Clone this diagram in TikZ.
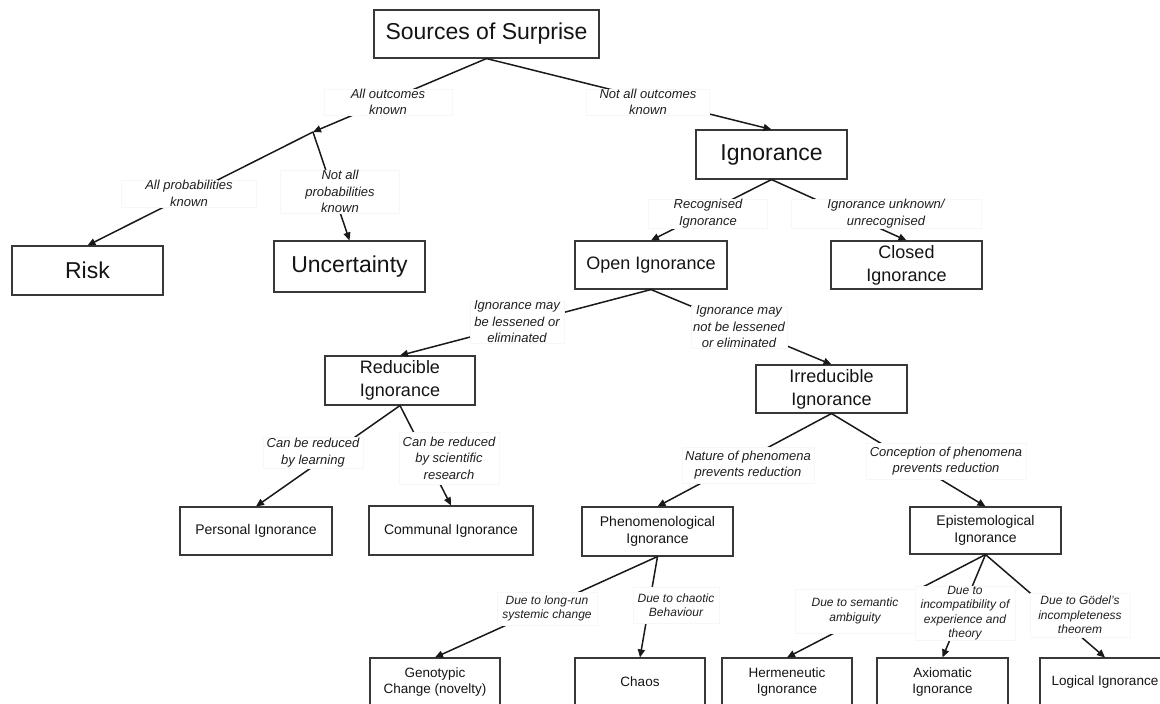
\documentclass[tikz,border=0pt]{standalone}
\usepackage{fontspec}
\setmainfont{Liberation Sans}
\usetikzlibrary{arrows.meta}

\tikzset{
    box/.style={draw=black!78, line width=1.1pt, align=center, inner sep=0pt, text=black!92},
    bigbox/.style={box, minimum width=151pt, minimum height=49pt, font=\fontsize{23}{27}\selectfont},
    midbox/.style={box, minimum width=151pt, minimum height=48pt, font=\fontsize{18}{23}\selectfont},
    smallbox/.style={box, minimum width=151pt, minimum height=48pt, font=\fontsize{14}{17}\selectfont},
    leafbox/.style={box, minimum width=130pt, minimum height=48pt, font=\fontsize{13.5}{16}\selectfont},
    conn/.style={line width=1.5pt, draw=black!90, -{Triangle[length=8pt,width=7pt]}},
    cond/.style={fill=white, draw=black!3, align=center, inner sep=0pt, text=black!88, font=\fontsize{13}{16.5}\selectfont\itshape},
    condsmall/.style={cond, font=\fontsize{12}{14.5}\selectfont\itshape}
}

\begin{document}
\begin{tikzpicture}[x=1pt,y=-1pt]
        \useasboundingbox (0,0) rectangle (1160,704);

        \node[bigbox, minimum width=225pt, minimum height=48pt] (sources) at (486.5,34) {Sources of Surprise};
        \node[bigbox] (ignorance) at (771.5,154.5) {Ignorance};
        \node[bigbox] (risk) at (87.5,270.5) {Risk};
        \node[bigbox, minimum height=51pt] (uncertainty) at (349.5,266.5) {Uncertainty};
        \node[midbox, minimum width=152pt] (open) at (651,265) {Open Ignorance};
        \node[midbox] (closed) at (906.5,265) {Closed\\Ignorance};
        \node[midbox, minimum width=150pt, minimum height=49pt] (reducible) at (400,380.5) {Reducible\\Ignorance};
        \node[midbox] (irreducible) at (831.5,389) {Irreducible\\Ignorance};
        \node[smallbox, minimum width=152pt] (personal) at (256,531) {Personal Ignorance};
        \node[smallbox, minimum width=164pt, minimum height=49pt] (communal) at (451,530.5) {Communal Ignorance};
        \node[smallbox, minimum height=49pt] (phenomenological) at (657.5,531.5) {Phenomenological\\Ignorance};
        \node[smallbox, minimum height=47pt] (epistemological) at (985.5,530.5) {Epistemological\\Ignorance};
        \node[leafbox] (genotypic) at (435,682) {Genotypic\\Change (novelty)};
        \node[leafbox] (chaos) at (640,682) {Chaos};
        \node[leafbox] (hermeneutic) at (787,682) {Hermeneutic\\Ignorance};
        \node[leafbox, minimum width=131pt] (axiomatic) at (942.5,682) {Axiomatic\\Ignorance};
        \node[leafbox] (logical) at (1105,682) {Logical Ignorance};

        \coordinate (known) at (313,132);

        \draw[conn] (sources.south) -- (known);
        \draw[conn] (sources.south) -- (ignorance.north);
        \draw[conn] (known) -- (risk.north);
        \draw[conn] (known) -- (uncertainty.north);
        \draw[conn] (ignorance.south) -- (open.north);
        \draw[conn] (ignorance.south) -- (closed.north);
        \draw[conn] (open.south) -- (reducible.north);
        \draw[conn] (open.south) -- (irreducible.north);
        \draw[conn] (reducible.south) -- (personal.north);
        \draw[conn] (reducible.south) -- (communal.north);
        \draw[conn] (irreducible.south) -- (phenomenological.north);
        \draw[conn] (irreducible.south) -- (epistemological.north);
        \draw[conn] (phenomenological.south) -- (genotypic.north);
        \draw[conn] (phenomenological.south) -- (chaos.north);
        \draw[conn] (epistemological.south) -- (hermeneutic.north);
        \draw[conn] (epistemological.south) -- (axiomatic.north);
        \draw[conn] (epistemological.south) -- (logical.north);

        % labels on the branches
        \node[cond, minimum width=128pt, minimum height=26pt] (allout) at (388,102) {All outcomes\\known};
        \node[cond, minimum width=123pt, minimum height=26pt] (notallout) at (648,102) {Not all outcomes\\known};
        \node[cond, minimum width=135pt, minimum height=27pt] (allprob) at (189,193.5) {All probabilities\\known};
        \node[cond, minimum width=119pt, minimum height=43pt] (notallprob) at (340,191.5) {Not all\\probabilities\\known};
        \node[cond, minimum width=119pt, minimum height=29pt] (recog) at (708,213.5) {Recognised\\Ignorance};
        \node[cond, minimum width=190pt, minimum height=29pt] (unrecog) at (886,213.5) {Ignorance unknown/\\unrecognised};
        \node[cond, minimum width=94pt] (lessened) at (517,322) {Ignorance may\\be lessened or\\eliminated};
        \node[cond, minimum width=96pt] (notlessened) at (739,327) {Ignorance may\\not be lessened\\or eliminated};
        \node[cond, minimum width=100pt, minimum height=31pt] (learning) at (313,452.5) {Can be reduced\\by learning};
        \node[cond, minimum width=100pt, minimum height=52pt] (research) at (449,458) {Can be reduced\\by scientific\\research};
        \node[cond, minimum width=132pt, minimum height=36pt] (nature) at (748,465) {Nature of phenomena\\prevents reduction};
        \node[cond, minimum width=160pt, minimum height=36pt] (conception) at (946,461) {Conception of phenomena\\prevents reduction};
        \node[condsmall, minimum width=100pt, minimum height=33pt] (longrun) at (547,608.5) {Due to long-run\\systemic change};
        \node[condsmall, minimum width=86pt, minimum height=36pt] (chaotic) at (676,605) {Due to chaotic\\Behaviour};
        \node[condsmall, minimum width=120pt, minimum height=44pt] (semantic) at (855,611) {Due to semantic\\ambiguity};
        \node[condsmall, minimum width=100pt, minimum height=50pt] (incompat) at (965,613) {Due to\\incompatibility of\\experience and\\theory};
        \node[condsmall, minimum width=100pt, minimum height=44pt] (goedel) at (1080,615) {Due to Gödel's\\incompleteness\\theorem};
\end{tikzpicture}
\end{document}
